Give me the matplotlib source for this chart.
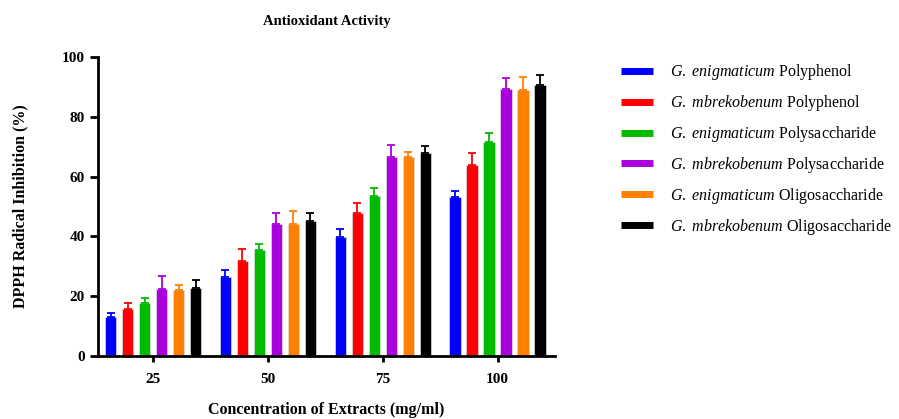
import matplotlib.pyplot as plt
import numpy as np

plt.rcParams["font.family"] = ["Liberation Serif", "DejaVu Serif"]
plt.rcParams["mathtext.fontset"] = "custom"
plt.rcParams["mathtext.rm"] = "Liberation Serif"
plt.rcParams["mathtext.it"] = "Liberation Serif:italic"

# concentrations and series (mean, sd)
conc = ["25", "50", "75", "100"]
labels = [
    r"$G.\ enigmaticum$ Polyphenol",
    r"$G.\ mbrekobenum$ Polyphenol",
    r"$G.\ enigmaticum$ Polysaccharide",
    r"$G.\ mbrekobenum$ Polysaccharide",
    r"$G.\ enigmaticum$ Oligosaccharide",
    r"$G.\ mbrekobenum$ Oligosaccharide",
]
colors = ["#0000ff", "#ff0000", "#00bb00", "#aa00dd", "#ff8000", "#000000"]

ge_phenol = [13.0, 26.4, 39.8, 53.2]
ge_phenol_sd = [1.3, 2.4, 2.7, 2.0]
gm_phenol = [15.7, 31.8, 47.8, 63.9]
gm_phenol_sd = [2.0, 4.0, 3.4, 4.0]
ge_poly = [17.7, 35.5, 53.5, 71.6]
ge_poly_sd = [1.7, 2.0, 2.7, 3.0]
gm_poly = [22.4, 44.3, 66.6, 89.3]
gm_poly_sd = [4.3, 3.5, 4.0, 3.7]
ge_oligo = [22.1, 44.3, 66.6, 89.0]
ge_oligo_sd = [1.7, 4.2, 1.6, 4.3]
gm_oligo = [22.7, 45.2, 67.9, 90.6]
gm_oligo_sd = [2.7, 2.6, 2.3, 3.4]

series = [ge_phenol, gm_phenol, ge_poly, gm_poly, ge_oligo, gm_oligo]
errors = [ge_phenol_sd, gm_phenol_sd, ge_poly_sd, gm_poly_sd, ge_oligo_sd, gm_oligo_sd]

fig = plt.figure(figsize=(8.99, 4.19), dpi=100)
ax = fig.add_axes([98 / 899, 1 - 356 / 419, 457 / 899, 299 / 419])

x = np.arange(len(conc))
pitch = 0.148
width = 0.1
for i, (vals, err, c, lab) in enumerate(zip(series, errors, colors, labels)):
    pos = x + (i - 2.5) * pitch
    ax.bar(pos, vals, width, color=c, edgecolor="#dddddd", linewidth=0.5, zorder=2)
    ax.errorbar(pos, vals, yerr=[np.zeros(len(err)), err], fmt="none", ecolor=c,
                elinewidth=1.3, capsize=3, capthick=1.3, zorder=3)
    ax.plot([], [], color=c, lw=5, solid_capstyle="butt", label=lab)

ax.set_xlim(-0.48, 3.5)
ax.set_ylim(0, 100)
ax.set_xticks(x)
ax.set_xticklabels(conc)
ax.set_yticks(np.arange(0, 101, 20))
for s in ["top", "right"]:
    ax.spines[s].set_visible(False)
for s in ["left", "bottom"]:
    ax.spines[s].set_linewidth(2)
ax.tick_params(axis="y", width=2, length=6, labelsize=11)
ax.tick_params(axis="x", width=2, length=4, labelsize=11, pad=8)
for t in ax.get_xticklabels() + ax.get_yticklabels():
    t.set_fontweight("bold")

ax.set_title("Antioxidant Activity", fontsize=10.5, fontweight="bold", pad=23)
ax.set_ylabel("DPPH Radical Inhibition (%)", fontsize=11.5, fontweight="bold", labelpad=24)
ax.set_xlabel("Concentration of Extracts (mg/ml)", fontsize=11.5, fontweight="bold", labelpad=12)

fig.legend(loc="upper left", bbox_to_anchor=(615 / 899, 1 - 56 / 419), frameon=False,
           fontsize=11.5, handlelength=2.0, handletextpad=1.05, labelspacing=0.68,
           borderaxespad=0)

fig.savefig("out.png", dpi=100)
